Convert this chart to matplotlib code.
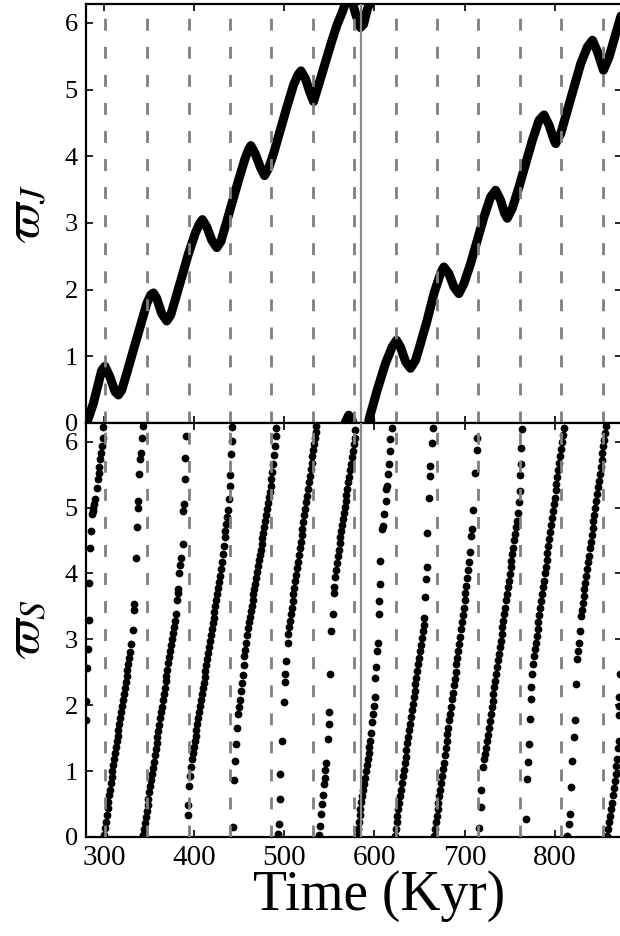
import numpy as np
import matplotlib.pyplot as plt

plt.rcParams['font.family'] = 'serif'
plt.rcParams['font.serif'] = ['Liberation Serif', 'DejaVu Serif']
plt.rcParams['mathtext.fontset'] = 'stix'

TWO_PI = 2 * np.pi

# conjunction-like markers (dashed) and the switch time (solid)
dash_times = [301.5, 347.5, 394.0, 439.7, 485.6, 531.7, 577.8, 623.7,
              669.2, 715.2, 761.1, 807.0, 853.3]
switch_time = 584.8

# Jupiter longitude of pericentre, first turn (runs a little past 2pi)
jup_t_a = [280.5, 281.4, 288.1, 293.7, 297.4, 301.1, 306.6, 312.2, 315.9, 319.6,
           325.1, 332.5, 340.0, 347.4, 351.8, 354.8, 358.5, 364.0, 369.6, 374.0,
           378.8, 386.3, 393.7, 401.1, 405.9, 409.2, 414.0, 419.6, 425.1, 429.6,
           434.4, 441.8, 449.2, 456.6, 460.3, 462.9, 467.7, 473.3, 478.1, 482.6,
           488.1, 495.5, 502.9, 510.3, 515.1, 518.5, 523.3, 528.1, 532.5, 536.3,
           541.9, 547.4, 553.0, 558.5, 564.0, 568.0, 571.5, 575.0, 579.0, 584.4,
           588.0, 592.0, 596.0]
jup_w_a = [-0.05, 0.02, 0.29, 0.59, 0.79, 0.85, 0.69, 0.47, 0.42, 0.49,
           0.74, 1.09, 1.44, 1.79, 1.92, 1.95, 1.87, 1.64, 1.53, 1.62,
           1.84, 2.19, 2.54, 2.84, 2.99, 3.05, 2.94, 2.74, 2.63, 2.72,
           2.94, 3.29, 3.64, 3.97, 4.10, 4.16, 4.04, 3.84, 3.71, 3.82,
           4.04, 4.39, 4.74, 5.07, 5.22, 5.28, 5.17, 4.97, 4.82, 4.99,
           5.24, 5.49, 5.74, 5.97, 6.15, 6.30, 6.40, 6.34, 6.14, 5.93,
           5.98, 6.20, 6.33]

# second turn, starting from zero again
jup_t_b = [593.7, 603.0, 612.2, 619.6, 624.5, 628.9, 634.5, 640.0, 645.6, 651.1,
           658.5, 666.0, 673.3, 677.0, 682.6, 688.2, 693.7, 699.3, 706.7, 714.1,
           721.5, 728.9, 734.5, 740.0, 744.5, 747.4, 753.0, 760.4, 767.8, 775.2,
           782.6, 788.2, 793.7, 799.3, 801.1, 806.7, 814.1, 821.5, 828.9, 836.3,
           841.9, 847.4, 854.1, 860.4, 867.8, 875.0]
jup_w_b = [0.04, 0.49, 0.89, 1.14, 1.24, 1.14, 0.92, 0.82, 0.94, 1.19,
           1.54, 1.94, 2.24, 2.34, 2.24, 2.04, 1.94, 2.09, 2.39, 2.74,
           3.09, 3.39, 3.49, 3.34, 3.14, 3.07, 3.22, 3.54, 3.89, 4.24,
           4.54, 4.62, 4.47, 4.24, 4.19, 4.34, 4.69, 5.04, 5.39, 5.64,
           5.74, 5.57, 5.29, 5.49, 5.84, 6.17]

# Saturn longitude of pericentre, sampled output, one list per wrap
sat_t_a = [280.2, 280.2, 281.1, 281.9, 283.0, 283.7, 284.4, 285.6, 286.7, 287.4,
           288.1, 289.3, 290.4, 291.9, 293.0, 294.1, 294.8, 295.9, 296.7, 297.8,
           298.5, 298.9]
sat_w_a = [1.77, 2.07, 2.57, 2.86, 3.30, 3.86, 4.39, 4.65, 4.90, 4.95,
           4.99, 5.06, 5.13, 5.30, 5.43, 5.53, 5.61, 5.73, 5.83, 5.93,
           6.06, 6.22]

sat_t_b = [300.2, 301.2, 302.1, 303.0, 303.9, 304.8, 305.7, 306.6, 307.5, 308.4,
           309.3, 310.2, 311.1, 312.0, 313.0, 314.0, 315.0, 316.0, 317.0, 318.0,
           319.0, 320.0, 321.0, 322.0, 323.0, 324.0, 325.0, 326.0, 327.0, 328.0,
           329.0, 330.2, 331.9, 333.0, 333.7, 335.6, 336.3, 337.4, 338.1, 338.5,
           340.0, 341.1, 342.2, 343.0]
sat_w_b = [0.03, 0.13, 0.23, 0.34, 0.44, 0.53, 0.63, 0.72, 0.82, 0.91,
           1.00, 1.09, 1.18, 1.27, 1.36, 1.45, 1.54, 1.63, 1.72, 1.81,
           1.90, 1.99, 2.08, 2.17, 2.26, 2.35, 2.44, 2.53, 2.62, 2.71,
           2.80, 2.93, 3.14, 3.45, 3.54, 4.24, 4.71, 4.99, 5.10, 5.51,
           5.73, 5.82, 6.06, 6.24]

sat_t_c = [343.3, 344.3, 345.3, 346.3, 347.3, 348.3, 349.3, 350.3, 351.3, 352.3,
           353.3, 354.3, 355.3, 356.3, 357.3, 358.3, 359.3, 360.3, 361.3, 362.3,
           363.3, 364.3, 365.3, 366.3, 367.3, 368.3, 369.3, 370.3, 371.3, 372.3,
           373.3, 374.3, 375.3, 376.3, 377.3, 378.3, 380.0, 380.7, 381.9, 382.6,
           383.7, 384.8, 385.6, 387.4, 388.1, 388.5, 389.6, 390.3, 391.1]
sat_w_c = [0.03, 0.12, 0.21, 0.30, 0.40, 0.49, 0.58, 0.68, 0.77, 0.86,
           0.96, 1.05, 1.14, 1.24, 1.33, 1.42, 1.52, 1.61, 1.70, 1.80,
           1.89, 1.98, 2.08, 2.17, 2.26, 2.36, 2.45, 2.54, 2.64, 2.73,
           2.82, 2.92, 3.01, 3.10, 3.19, 3.28, 3.38, 3.59, 3.71, 3.76,
           4.00, 4.13, 4.24, 4.44, 4.95, 5.06, 5.43, 5.75, 6.09]

sat_t_d = [393.0, 393.2, 394.8, 395.6, 396.7, 397.8, 398.5, 399.5, 400.5, 401.5,
           402.5, 403.5, 404.5, 405.5, 406.5, 407.5, 408.5, 409.5, 410.5, 411.5,
           412.5, 413.5, 414.5, 415.5, 416.5, 417.5, 418.5, 419.5, 420.5, 421.5,
           422.5, 423.5, 424.5, 425.5, 426.5, 427.5, 428.5, 429.5, 430.7, 431.9,
           432.8, 433.7, 434.7, 435.6, 436.5, 437.4, 438.5, 439.3, 440.0, 441.1,
           441.9, 442.4]
sat_w_d = [0.33, 0.48, 0.78, 0.93, 1.06, 1.19, 1.28, 1.36, 1.45, 1.54,
           1.63, 1.72, 1.81, 1.90, 1.99, 2.08, 2.17, 2.26, 2.34, 2.43,
           2.52, 2.61, 2.70, 2.79, 2.88, 2.97, 3.06, 3.15, 3.24, 3.33,
           3.42, 3.51, 3.60, 3.69, 3.78, 3.87, 3.96, 4.06, 4.17, 4.29,
           4.42, 4.55, 4.65, 4.75, 4.86, 4.97, 5.13, 5.32, 5.50, 5.81,
           6.01, 6.22]

sat_t_e = [443.5, 444.4, 445.2, 446.3, 447.4, 448.6, 449.8, 450.8, 451.8, 452.8,
           453.8, 454.8, 455.8, 456.8, 457.8, 458.8, 459.8, 460.8, 461.8, 462.8,
           463.8, 464.8, 465.8, 466.8, 467.8, 468.8, 469.8, 470.8, 471.8, 472.8,
           473.8, 474.8, 475.8, 476.8, 477.8, 478.8, 479.8, 480.8, 481.8, 482.8,
           483.8, 484.8, 485.8, 486.8, 487.8, 488.8, 489.8, 490.6, 491.1]
sat_w_e = [0.15, 0.86, 1.16, 1.41, 1.66, 1.87, 1.98, 2.08, 2.21, 2.34,
           2.46, 2.61, 2.74, 2.84, 2.95, 3.06, 3.17, 3.26, 3.34, 3.43,
           3.51, 3.59, 3.68, 3.76, 3.84, 3.93, 4.02, 4.11, 4.20, 4.28,
           4.36, 4.45, 4.54, 4.62, 4.71, 4.80, 4.89, 4.98, 5.07, 5.16,
           5.24, 5.33, 5.43, 5.54, 5.66, 5.79, 5.94, 6.08, 6.21]

sat_t_f = [493.4, 493.7, 494.8, 495.6, 497.4, 499.3, 500.4, 501.1, 502.2, 503.7,
           504.4, 505.3, 506.2, 507.2, 508.2, 509.2, 510.2, 511.2, 512.2, 513.2,
           514.2, 515.2, 516.2, 517.2, 518.2, 519.2, 520.2, 521.2, 522.2, 523.2,
           524.2, 525.2, 526.2, 527.2, 528.2, 529.2, 530.2, 531.2, 532.2, 533.2,
           534.2, 535.0, 535.6]
sat_w_f = [0.05, 0.20, 0.58, 0.95, 1.45, 2.05, 2.35, 2.47, 2.67, 2.95,
           3.08, 3.18, 3.28, 3.38, 3.48, 3.58, 3.68, 3.78, 3.88, 3.98,
           4.08, 4.18, 4.28, 4.38, 4.48, 4.58, 4.68, 4.78, 4.88, 4.98,
           5.08, 5.18, 5.28, 5.38, 5.48, 5.58, 5.68, 5.78, 5.88, 5.97,
           6.06, 6.15, 6.24]

sat_t_g = [538.2, 539.5, 540.7, 541.9, 542.8, 543.7, 544.8, 545.6, 546.7, 548.1,
           549.3, 550.0, 551.1, 551.9, 553.5, 554.8, 555.7, 556.7, 557.7, 558.6,
           559.5, 560.4, 561.3, 562.2, 563.1, 564.0, 565.0, 566.0, 567.0, 568.0,
           569.0, 570.0, 571.0, 572.0, 573.0, 574.0, 575.0, 576.0, 577.0, 578.0,
           578.9]
sat_w_g = [0.03, 0.16, 0.35, 0.50, 0.63, 0.80, 0.90, 1.01, 1.12, 1.49,
           1.72, 1.89, 2.47, 3.12, 3.38, 3.71, 3.80, 3.94, 4.05, 4.16,
           4.26, 4.36, 4.46, 4.56, 4.65, 4.74, 4.83, 4.92, 5.01, 5.10,
           5.19, 5.28, 5.38, 5.47, 5.57, 5.66, 5.76, 5.86, 5.96, 6.06,
           6.17]

sat_t_h = [580.5, 581.5, 582.5, 583.5, 584.5, 585.5, 586.5, 587.5, 588.5, 589.5,
           590.5, 591.5, 592.5, 593.5, 594.5, 595.6, 596.6, 597.4, 598.4, 599.3,
           600.1, 601.1, 602.2, 603.0, 604.1, 604.8, 605.6, 606.0, 606.7, 608.5,
           609.6, 610.4, 612.3, 613.3, 614.1, 614.8, 615.9, 617.0, 617.8, 619.6]
sat_w_h = [0.02, 0.12, 0.22, 0.33, 0.43, 0.53, 0.62, 0.72, 0.81, 0.90,
           1.00, 1.09, 1.18, 1.27, 1.36, 1.46, 1.58, 1.75, 1.87, 1.99,
           2.12, 2.42, 2.58, 2.83, 2.95, 3.38, 3.58, 3.84, 4.19, 4.67,
           4.72, 4.90, 5.10, 5.28, 5.33, 5.51, 5.66, 5.86, 6.04, 6.21]

sat_t_i = [622.5, 623.5, 624.5, 625.5, 626.5, 627.5, 628.5, 629.5, 630.5, 631.5,
           632.5, 633.5, 634.5, 635.5, 636.5, 637.5, 638.5, 639.5, 640.5, 641.5,
           642.5, 643.5, 644.5, 645.5, 646.5, 647.5, 648.5, 649.5, 650.5, 651.5,
           652.5, 653.5, 654.5, 655.2, 655.6, 656.7, 657.8, 658.5, 660.4, 661.5,
           662.2, 664.1, 665.2]
sat_w_i = [0.02, 0.12, 0.22, 0.32, 0.42, 0.52, 0.62, 0.72, 0.82, 0.92,
           1.02, 1.12, 1.22, 1.32, 1.42, 1.52, 1.62, 1.72, 1.82, 1.92,
           2.02, 2.12, 2.22, 2.32, 2.42, 2.52, 2.62, 2.72, 2.82, 2.92,
           3.02, 3.12, 3.22, 3.33, 3.64, 3.91, 4.09, 4.62, 5.15, 5.48,
           5.63, 5.98, 6.21]

sat_t_j = [666.0, 667.0, 668.0, 669.0, 670.0, 671.0, 672.0, 673.0, 674.0, 675.0,
           676.0, 677.0, 678.0, 679.0, 680.0, 681.0, 682.0, 683.0, 684.0, 685.0,
           686.0, 687.0, 688.0, 689.0, 690.0, 691.0, 692.0, 693.0, 694.0, 695.0,
           696.0, 697.0, 698.0, 699.0, 700.0, 701.0, 702.0, 703.0, 704.0, 704.8,
           705.7, 706.7, 708.5, 709.6, 711.1, 713.3, 714.1]
sat_w_j = [0.02, 0.12, 0.22, 0.32, 0.42, 0.52, 0.62, 0.72, 0.82, 0.92,
           1.03, 1.13, 1.24, 1.35, 1.45, 1.56, 1.66, 1.77, 1.87, 1.98,
           2.09, 2.19, 2.30, 2.40, 2.51, 2.62, 2.72, 2.83, 2.93, 3.04,
           3.15, 3.26, 3.37, 3.48, 3.59, 3.70, 3.81, 3.93, 4.05, 4.17,
           4.32, 4.57, 4.67, 4.97, 5.53, 5.88, 6.06]

sat_t_k = [716.0, 717.8, 718.5, 720.8, 722.0, 723.0, 724.0, 725.0, 726.0, 727.0,
           728.0, 729.0, 730.0, 731.0, 732.0, 733.0, 734.0, 735.0, 736.0, 737.0,
           738.0, 739.0, 740.0, 741.0, 742.0, 743.0, 744.0, 745.0, 746.0, 747.0,
           748.0, 749.0, 750.0, 751.0, 752.0, 753.0, 754.0, 755.0, 756.0, 757.0,
           758.0, 759.0, 760.1, 761.0, 761.5, 762.2, 763.0, 764.1]
sat_w_k = [0.13, 0.45, 0.71, 1.06, 1.18, 1.26, 1.35, 1.45, 1.55, 1.66,
           1.76, 1.87, 1.97, 2.07, 2.17, 2.27, 2.37, 2.47, 2.58, 2.68,
           2.78, 2.88, 2.98, 3.08, 3.18, 3.28, 3.38, 3.48, 3.59, 3.69,
           3.79, 3.89, 3.99, 4.09, 4.19, 4.29, 4.39, 4.50, 4.60, 4.70,
           4.80, 4.92, 5.08, 5.25, 5.50, 5.66, 5.91, 6.19]

sat_t_l = [767.8, 769.6, 770.8, 771.5, 772.6, 773.3, 774.1, 775.2, 776.2, 777.1,
           778.0, 779.0, 780.0, 781.0, 782.0, 783.0, 784.0, 785.0, 786.0, 787.0,
           788.0, 789.0, 790.0, 791.0, 792.0, 793.0, 794.0, 795.0, 796.0, 797.0,
           798.0, 799.0, 800.0, 801.0, 802.0, 803.0, 804.0, 805.0, 806.0, 807.0,
           808.0, 809.0, 810.0]
sat_w_l = [0.28, 0.88, 1.14, 1.41, 1.79, 2.09, 2.27, 2.47, 2.62, 2.75,
           2.85, 2.95, 3.05, 3.16, 3.26, 3.37, 3.47, 3.58, 3.68, 3.79,
           3.89, 4.00, 4.10, 4.21, 4.31, 4.42, 4.52, 4.63, 4.73, 4.84,
           4.94, 5.05, 5.15, 5.26, 5.36, 5.47, 5.57, 5.68, 5.78, 5.89,
           5.99, 6.10, 6.20]

sat_t_m = [814.1, 815.9, 817.0, 818.5, 819.6, 821.5, 822.2, 823.3, 824.5, 825.5,
           826.5, 827.6, 828.9, 830.0, 831.0, 832.0, 833.0, 834.0, 835.0, 836.0,
           837.0, 838.0, 839.0, 840.0, 841.0, 842.0, 843.0, 844.0, 845.0, 846.0,
           847.0, 848.0, 849.0, 850.0, 851.0, 852.0, 853.0, 854.0, 855.0, 856.0,
           856.8]
sat_w_m = [0.02, 0.20, 0.35, 0.76, 1.16, 1.51, 1.77, 2.32, 2.70, 2.83,
           2.95, 3.12, 3.35, 3.45, 3.55, 3.65, 3.76, 3.86, 3.96, 4.07,
           4.17, 4.27, 4.38, 4.48, 4.58, 4.69, 4.79, 4.89, 5.00, 5.10,
           5.20, 5.31, 5.41, 5.51, 5.62, 5.72, 5.82, 5.93, 6.03, 6.13,
           6.24]

sat_t_n = [858.5, 859.5, 860.5, 861.5, 862.5, 863.5, 864.5, 865.5, 866.5, 867.5,
           868.5, 869.5, 870.5, 871.3, 871.2, 871.5, 871.6, 872.6]
sat_w_n = [0.02, 0.12, 0.22, 0.32, 0.42, 0.52, 0.63, 0.74, 0.85, 0.96,
           1.07, 1.18, 1.35, 1.46, 1.85, 1.99, 2.12, 2.47]

sat_bands = [(sat_t_a, sat_w_a), (sat_t_b, sat_w_b), (sat_t_c, sat_w_c),
             (sat_t_d, sat_w_d), (sat_t_e, sat_w_e), (sat_t_f, sat_w_f),
             (sat_t_g, sat_w_g), (sat_t_h, sat_w_h), (sat_t_i, sat_w_i),
             (sat_t_j, sat_w_j), (sat_t_k, sat_w_k), (sat_t_l, sat_w_l),
             (sat_t_m, sat_w_m), (sat_t_n, sat_w_n)]

fig = plt.figure(figsize=(6.2, 9.36), dpi=100)
ax1 = fig.add_axes([0.1387, 0.5481, 0.865, 0.4476])
ax2 = fig.add_axes([0.1387, 0.1058, 0.865, 0.4423], sharex=ax1)

# top: Jupiter, drawn as a thick curve, wrapped copies clipped by the axes
ja = np.array(jup_w_a)
jb = np.array(jup_w_b)
for t, w in [(jup_t_a, ja), (jup_t_a, ja - TWO_PI), (jup_t_b, jb), (jup_t_b, jb + TWO_PI)]:
    ax1.plot(t, w, '-', color='k', lw=6.5, solid_capstyle='round',
             solid_joinstyle='round', zorder=2)

# bottom: Saturn samples
for t, w in sat_bands:
    ax2.plot(t, w, 'o', color='k', ms=5.6, mew=0, zorder=2)

for ax in (ax1, ax2):
    for t in dash_times:
        ax.axvline(t, color='#7f7f7f', lw=2.0, ls=(0, (4.3, 5.8)), zorder=3)
    ax.axvline(switch_time, color='#8a8a8a', lw=1.6, zorder=3)
    ax.set_ylim(0, TWO_PI)
    ax.set_yticks(range(0, 7))
    ax.tick_params(direction='in', length=5, width=1.2, top=True, right=True,
                   labelsize=19, pad=6)
    ax.tick_params(axis='x', labelsize=21)
    for sp in ax.spines.values():
        sp.set_linewidth(1.6)

ax1.set_xlim(280, 875)
ax2.set_xticks([300, 400, 500, 600, 700, 800])
ax1.tick_params(labelbottom=False)

ax1.set_ylabel(r'$\varpi_J$', fontsize=37)
ax2.set_ylabel(r'$\varpi_S$', fontsize=37)
ax1.yaxis.set_label_coords(-0.066, 0.5)
ax2.yaxis.set_label_coords(-0.066, 0.5)
ax2.set_xlabel('Time (Kyr)', fontsize=40)
ax2.xaxis.set_label_coords(0.547, -0.08)

fig.savefig('out.png', dpi=100)
